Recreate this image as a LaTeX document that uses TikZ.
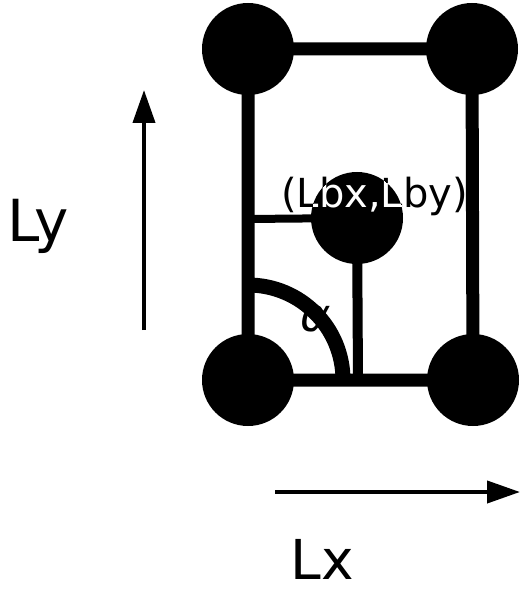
\documentclass[tikz,border=0pt]{standalone}
\usepackage{fontspec}
\setmainfont{DejaVu Sans}
\usetikzlibrary{arrows.meta}

\begin{document}
\begin{tikzpicture}[x=1pt,y=-1pt,
                atom/.style={circle,fill=black,inner sep=0pt,minimum size=92pt},
                lbl/.style={inner sep=0pt,font=\fontsize{#1}{#1}\selectfont},
                axis/.style={line width=4pt,-{Triangle[length=33pt,width=22pt]}}]
                \useasboundingbox (0,0) rectangle (520,593);

                \node[atom] (tl) at (248,49) {};
                \node[atom] (tr) at (472,49) {};
                \node[atom] (bl) at (248,380) {};
                \node[atom] (br) at (473,380) {};
                \node[atom] (c) at (357,218) {};
                \draw[line width=13pt] (bl.center) -- (tl.center) -- (tr.center) -- (br.center) -- (bl.center);

                \coordinate (hl) at (248,219);
                \coordinate (vb) at (358,380);
                \draw[line width=8pt] (hl) -- (c.center);
                \draw[line width=10pt] (c.center) -- (vb);

                \node[lbl=46,anchor=base] (alpha) at (316,331) {\itshape α};
                \draw[line width=15pt] (bl.center) ++(95pt,0) arc (0:90:95pt);

                \node[lbl=40,anchor=base west] (pos) at (281,208) {(Lbx,Lby)};
                \begin{scope}
                  \clip (c) circle (46pt);
                  \node[lbl=40,anchor=base west,text=white] at (pos.base west) {(Lbx,Lby)};
                \end{scope}

                \coordinate (ys) at (144,330);
                \coordinate (ye) at (144,90);
                \draw[axis] (ys) -- (ye);
                \node[lbl=58,anchor=base] (ly) at (38,242) {Ly};

                \coordinate (xs) at (275,492);
                \coordinate (xe) at (520,492);
                \draw[axis] (xs) -- (xe);
                \node[lbl=55,anchor=base] (lx) at (322,579) {Lx};
\end{tikzpicture}
\end{document}
